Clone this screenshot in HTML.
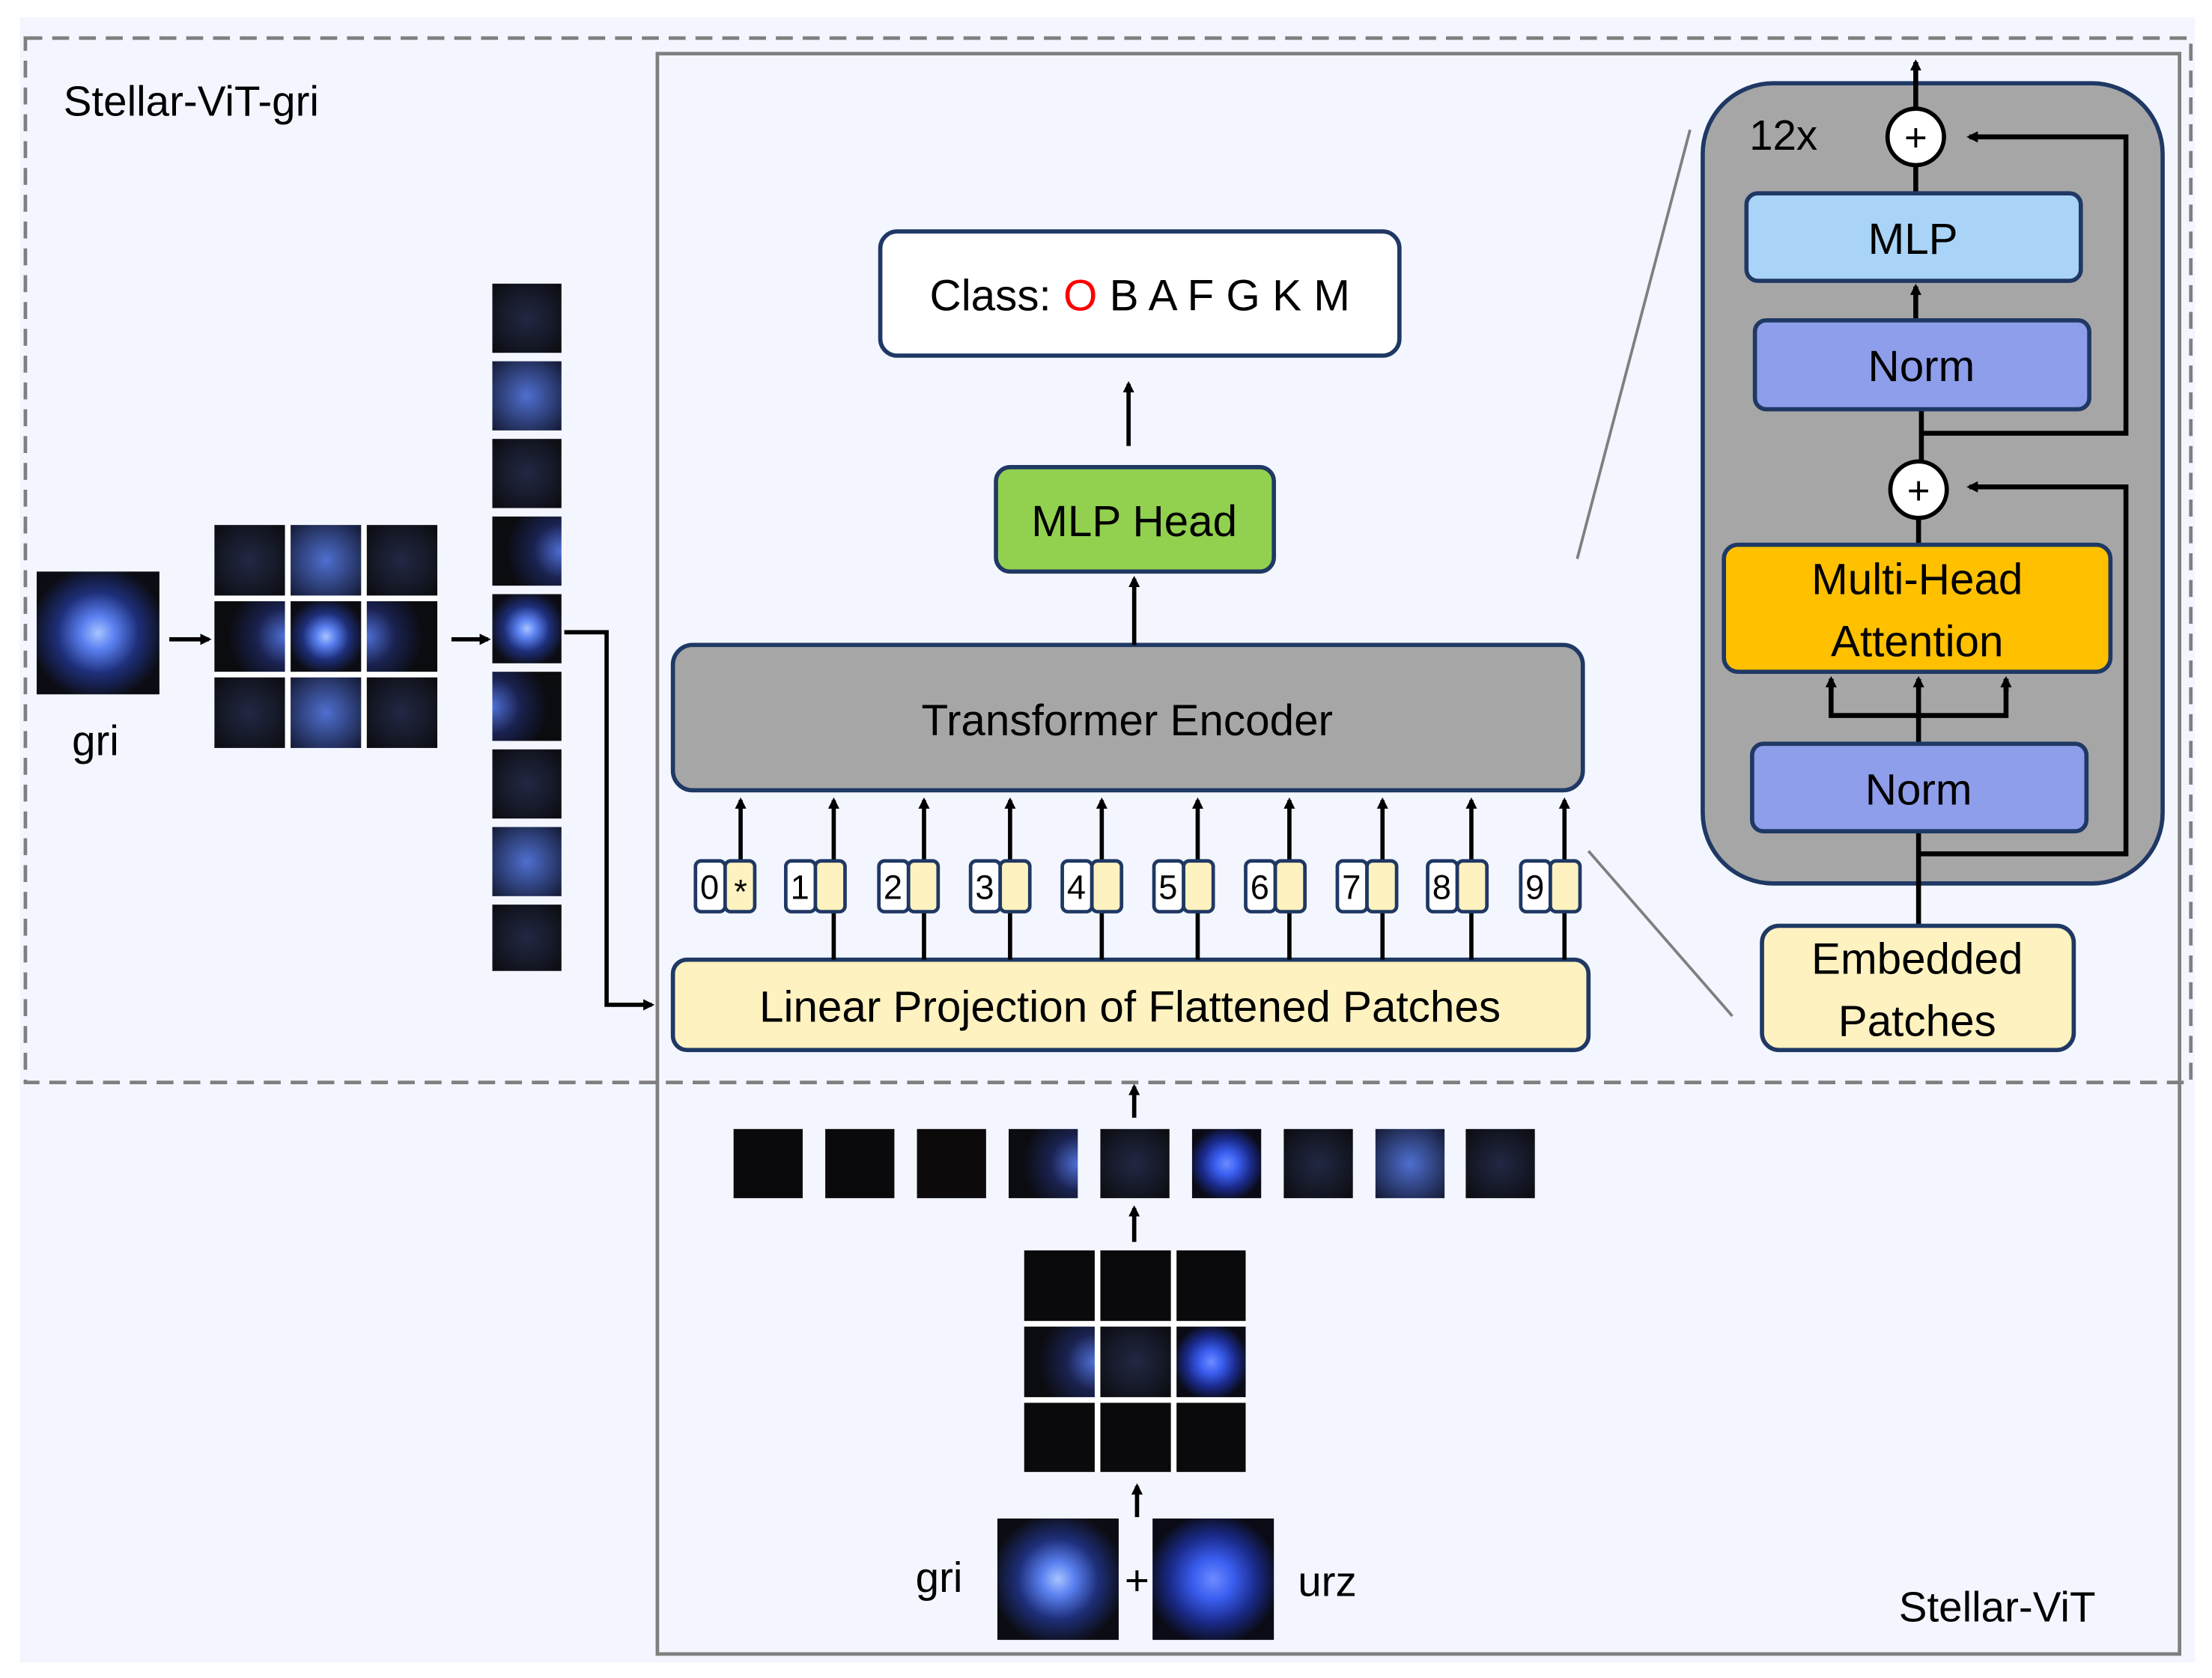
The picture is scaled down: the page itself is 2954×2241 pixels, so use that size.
<!DOCTYPE html>
<html><head><meta charset="utf-8"><style>
html,body{margin:0;padding:0;background:#fff;}
svg{display:block;}
text{font-family:"Liberation Sans","DejaVu Sans",sans-serif;}
</style></head><body>
<svg width="2954" height="2241" viewBox="0 0 1568 1189" preserveAspectRatio="none" xmlns="http://www.w3.org/2000/svg">
<defs>
<radialGradient id="star" cx="50%" cy="50%" r="55%">
<stop offset="0" stop-color="#a8c4ff"/><stop offset="0.25" stop-color="#5a80f0"/><stop offset="0.6" stop-color="#1e2f7a"/><stop offset="1" stop-color="#0c0d14"/></radialGradient>
<radialGradient id="star2" cx="50%" cy="50%" r="55%">
<stop offset="0" stop-color="#6e8cff"/><stop offset="0.3" stop-color="#3a5ef0"/><stop offset="0.65" stop-color="#1a2a8a"/><stop offset="1" stop-color="#0a0b14"/></radialGradient>
<radialGradient id="dim" cx="50%" cy="50%" r="70%">
<stop offset="0" stop-color="#222844"/><stop offset="1" stop-color="#0b0c10"/></radialGradient>
<radialGradient id="mid" cx="50%" cy="50%" r="70%">
<stop offset="0" stop-color="#4f6fd0"/><stop offset="1" stop-color="#141a34"/></radialGradient>
<radialGradient id="edgeL" cx="100%" cy="50%" r="80%">
<stop offset="0" stop-color="#5070d8"/><stop offset="0.5" stop-color="#1a2250"/><stop offset="1" stop-color="#0b0c10"/></radialGradient>
<radialGradient id="edgeR" cx="0%" cy="50%" r="80%">
<stop offset="0" stop-color="#5070d8"/><stop offset="0.5" stop-color="#1a2250"/><stop offset="1" stop-color="#0b0c10"/></radialGradient>
<marker id="ah" markerWidth="8" markerHeight="8" refX="6" refY="4" orient="auto" markerUnits="userSpaceOnUse"><path d="M0,0 L8,4 L0,8 z" fill="#000"/></marker>
</defs>
<rect x="14" y="12" width="1542" height="1166" fill="#f3f6fe"/>
<rect x="18" y="27" width="1535" height="740" fill="none" stroke="#7f7f7f" stroke-width="2.5" stroke-dasharray="12,7"/>
<rect x="466" y="38" width="1079" height="1134" fill="none" stroke="#7f7f7f" stroke-width="2.5"/>
<text x="45" y="82" font-size="30">Stellar-ViT-gri</text>
<text x="1346" y="1149" font-size="30">Stellar-ViT</text>

<!-- left star -->
<rect x="26" y="405" width="87" height="87" fill="url(#star)"/>
<text x="51" y="535" font-size="30">gri</text>
<line x1="120" y1="453" x2="148" y2="453" stroke="#000" stroke-width="3" marker-end="url(#ah)"/>
<rect x="152" y="372" width="158" height="158" fill="#fff"/>
<rect x="152" y="372" width="50" height="50" fill="url(#dim)"/>
<rect x="206" y="372" width="50" height="50" fill="url(#mid)"/>
<rect x="260" y="372" width="50" height="50" fill="url(#dim)"/>
<rect x="152" y="426" width="50" height="50" fill="url(#edgeL)"/>
<rect x="206" y="426" width="50" height="50" fill="url(#star)"/>
<rect x="260" y="426" width="50" height="50" fill="url(#edgeR)"/>
<rect x="152" y="480" width="50" height="50" fill="url(#dim)"/>
<rect x="206" y="480" width="50" height="50" fill="url(#mid)"/>
<rect x="260" y="480" width="50" height="50" fill="url(#dim)"/>
<line x1="320" y1="453" x2="346" y2="453" stroke="#000" stroke-width="3" marker-end="url(#ah)"/>
<g>
<rect x="349" y="201" width="49" height="49" fill="url(#dim)"/>
<rect x="349" y="256" width="49" height="49" fill="url(#mid)"/>
<rect x="349" y="311" width="49" height="49" fill="url(#dim)"/>
<rect x="349" y="366" width="49" height="49" fill="url(#edgeL)"/>
<rect x="349" y="421" width="49" height="49" fill="url(#star)"/>
<rect x="349" y="476" width="49" height="49" fill="url(#edgeR)"/>
<rect x="349" y="531" width="49" height="49" fill="url(#dim)"/>
<rect x="349" y="586" width="49" height="49" fill="url(#mid)"/>
<rect x="349" y="641" width="49" height="47" fill="url(#dim)"/>
</g>
<polyline points="400,448 430,448 430,712 462,712" fill="none" stroke="#000" stroke-width="3" marker-end="url(#ah)"/>

<!-- thin gray lines -->
<line x1="1198" y1="92" x2="1118" y2="396" stroke="#7f7f7f" stroke-width="2"/>
<line x1="1126" y1="603" x2="1228" y2="720" stroke="#7f7f7f" stroke-width="2"/>

<!-- main pipeline -->
<rect x="477" y="680" width="649" height="64" rx="10" fill="#fdf2c0" stroke="#1f3864" stroke-width="3"/>
<text x="801" y="724" font-size="31" text-anchor="middle">Linear Projection of Flattened Patches</text>
<rect x="477" y="457" width="645" height="103" rx="14" fill="#a6a6a6" stroke="#1f3864" stroke-width="3"/>
<text x="799" y="521" font-size="31" text-anchor="middle">Transformer Encoder</text>
<g stroke="#000" stroke-width="3">
<line x1="525" y1="610" x2="525" y2="567" marker-end="url(#ah)"/>
<line x1="591" y1="680" x2="591" y2="567" marker-end="url(#ah)"/>
<line x1="655" y1="680" x2="655" y2="567" marker-end="url(#ah)"/>
<line x1="716" y1="680" x2="716" y2="567" marker-end="url(#ah)"/>
<line x1="781" y1="680" x2="781" y2="567" marker-end="url(#ah)"/>
<line x1="849" y1="680" x2="849" y2="567" marker-end="url(#ah)"/>
<line x1="914" y1="680" x2="914" y2="567" marker-end="url(#ah)"/>
<line x1="980" y1="680" x2="980" y2="567" marker-end="url(#ah)"/>
<line x1="1043" y1="680" x2="1043" y2="567" marker-end="url(#ah)"/>
<line x1="1109" y1="680" x2="1109" y2="567" marker-end="url(#ah)"/>
</g>
<g font-size="24" stroke-width="2.5">
<rect x="493" y="610" width="21" height="36" rx="4" fill="#fff" stroke="#1f3864"/><rect x="514" y="610" width="21" height="36" rx="4" fill="#fdf2c0" stroke="#1f3864"/><text x="503" y="637" text-anchor="middle">0</text><text x="525" y="640" text-anchor="middle">*</text>
<rect x="557" y="610" width="21" height="36" rx="4" fill="#fff" stroke="#1f3864"/><rect x="578" y="610" width="21" height="36" rx="4" fill="#fdf2c0" stroke="#1f3864"/><text x="567" y="637" text-anchor="middle">1</text>
<rect x="623" y="610" width="21" height="36" rx="4" fill="#fff" stroke="#1f3864"/><rect x="644" y="610" width="21" height="36" rx="4" fill="#fdf2c0" stroke="#1f3864"/><text x="633" y="637" text-anchor="middle">2</text>
<rect x="688" y="610" width="21" height="36" rx="4" fill="#fff" stroke="#1f3864"/><rect x="709" y="610" width="21" height="36" rx="4" fill="#fdf2c0" stroke="#1f3864"/><text x="698" y="637" text-anchor="middle">3</text>
<rect x="753" y="610" width="21" height="36" rx="4" fill="#fff" stroke="#1f3864"/><rect x="774" y="610" width="21" height="36" rx="4" fill="#fdf2c0" stroke="#1f3864"/><text x="763" y="637" text-anchor="middle">4</text>
<rect x="818" y="610" width="21" height="36" rx="4" fill="#fff" stroke="#1f3864"/><rect x="839" y="610" width="21" height="36" rx="4" fill="#fdf2c0" stroke="#1f3864"/><text x="828" y="637" text-anchor="middle">5</text>
<rect x="883" y="610" width="21" height="36" rx="4" fill="#fff" stroke="#1f3864"/><rect x="904" y="610" width="21" height="36" rx="4" fill="#fdf2c0" stroke="#1f3864"/><text x="893" y="637" text-anchor="middle">6</text>
<rect x="948" y="610" width="21" height="36" rx="4" fill="#fff" stroke="#1f3864"/><rect x="969" y="610" width="21" height="36" rx="4" fill="#fdf2c0" stroke="#1f3864"/><text x="958" y="637" text-anchor="middle">7</text>
<rect x="1012" y="610" width="21" height="36" rx="4" fill="#fff" stroke="#1f3864"/><rect x="1033" y="610" width="21" height="36" rx="4" fill="#fdf2c0" stroke="#1f3864"/><text x="1022" y="637" text-anchor="middle">8</text>
<rect x="1078" y="610" width="21" height="36" rx="4" fill="#fff" stroke="#1f3864"/><rect x="1099" y="610" width="21" height="36" rx="4" fill="#fdf2c0" stroke="#1f3864"/><text x="1088" y="637" text-anchor="middle">9</text>
</g>
<line x1="804" y1="457" x2="804" y2="410" stroke="#000" stroke-width="3" marker-end="url(#ah)"/>
<rect x="706" y="331" width="197" height="74" rx="10" fill="#92d050" stroke="#1f3864" stroke-width="3"/>
<text x="804" y="380" font-size="31" text-anchor="middle">MLP Head</text>
<line x1="800" y1="316" x2="800" y2="272" stroke="#000" stroke-width="3" marker-end="url(#ah)"/>
<rect x="624" y="164" width="368" height="88" rx="12" fill="#fff" stroke="#1f3864" stroke-width="3"/>
<text x="808" y="220" font-size="31" text-anchor="middle">Class: <tspan fill="#ff0000">O</tspan> B A F G K M</text>

<!-- encoder block -->
<rect x="1207" y="59" width="326" height="567" rx="50" fill="#a6a6a6" stroke="#1f3864" stroke-width="3"/>
<text x="1240" y="106" font-size="30">12x</text>
<g stroke="#000" stroke-width="3.5" fill="none">
<line x1="1358" y1="77" x2="1358" y2="44" marker-end="url(#ah)"/>
<polyline points="1362,307 1507,307 1507,97 1396,97" marker-end="url(#ah)"/>
<polyline points="1360,605 1507,605 1507,345 1396,345" marker-end="url(#ah)"/>
<line x1="1358" y1="137" x2="1358" y2="117"/>
<line x1="1358" y1="227" x2="1358" y2="203" marker-end="url(#ah)"/>
<line x1="1362" y1="290" x2="1362" y2="327"/>
<line x1="1360" y1="386" x2="1360" y2="367"/>
<line x1="1360" y1="656" x2="1360" y2="589"/>
<line x1="1360" y1="527" x2="1360" y2="481" marker-end="url(#ah)"/>
<polyline points="1298,481 1298,507 1422,507 1422,481" />
<line x1="1298" y1="490" x2="1298" y2="481" marker-end="url(#ah)"/>
<line x1="1422" y1="490" x2="1422" y2="481" marker-end="url(#ah)"/>
</g>
<circle cx="1358" cy="97" r="20" fill="#fff" stroke="#000" stroke-width="3"/>
<text x="1358" y="107" font-size="28" text-anchor="middle">+</text>
<circle cx="1360" cy="347" r="20" fill="#fff" stroke="#000" stroke-width="3"/>
<text x="1360" y="357" font-size="28" text-anchor="middle">+</text>
<rect x="1238" y="137" width="237" height="62" rx="8" fill="#a9d4f7" stroke="#1f3864" stroke-width="3"/>
<text x="1356" y="180" font-size="31" text-anchor="middle">MLP</text>
<rect x="1244" y="227" width="237" height="63" rx="8" fill="#8e9eea" stroke="#1f3864" stroke-width="3"/>
<text x="1362" y="270" font-size="31" text-anchor="middle">Norm</text>
<rect x="1222" y="386" width="274" height="90" rx="10" fill="#ffc000" stroke="#1f3864" stroke-width="3"/>
<text x="1359" y="421" font-size="31" text-anchor="middle">Multi-Head</text>
<text x="1359" y="465" font-size="31" text-anchor="middle">Attention</text>
<rect x="1242" y="527" width="237" height="62" rx="8" fill="#8e9eea" stroke="#1f3864" stroke-width="3"/>
<text x="1360" y="570" font-size="31" text-anchor="middle">Norm</text>
<rect x="1249" y="656" width="221" height="88" rx="12" fill="#fdf2c0" stroke="#1f3864" stroke-width="3"/>
<text x="1359" y="690" font-size="31" text-anchor="middle">Embedded</text>
<text x="1359" y="734" font-size="31" text-anchor="middle">Patches</text>

<!-- bottom -->
<line x1="804" y1="792" x2="804" y2="770" stroke="#000" stroke-width="3" marker-end="url(#ah)"/>
<rect x="520" y="800" width="49" height="49" fill="#0a0a0c"/>
<rect x="585" y="800" width="49" height="49" fill="#0a0a0c"/>
<rect x="650" y="800" width="49" height="49" fill="#0d0a0c"/>
<rect x="715" y="800" width="49" height="49" fill="url(#edgeL)"/>
<rect x="780" y="800" width="49" height="49" fill="url(#dim)"/>
<rect x="845" y="800" width="49" height="49" fill="url(#star2)"/>
<rect x="910" y="800" width="49" height="49" fill="url(#dim)"/>
<rect x="975" y="800" width="49" height="49" fill="url(#mid)"/>
<rect x="1039" y="800" width="49" height="49" fill="url(#dim)"/>
<line x1="804" y1="880" x2="804" y2="856" stroke="#000" stroke-width="3" marker-end="url(#ah)"/>
<rect x="726" y="886" width="157" height="157" fill="#fff"/>
<rect x="726" y="886" width="50" height="50" fill="#0a0a0c"/>
<rect x="780" y="886" width="50" height="50" fill="#0a0a0c"/>
<rect x="834" y="886" width="49" height="50" fill="#0a0a0c"/>
<rect x="726" y="940" width="50" height="50" fill="url(#edgeL)"/>
<rect x="780" y="940" width="50" height="50" fill="url(#dim)"/>
<rect x="834" y="940" width="49" height="50" fill="url(#star2)"/>
<rect x="726" y="994" width="50" height="49" fill="#0a0a0c"/>
<rect x="780" y="994" width="50" height="49" fill="#0a0a0c"/>
<rect x="834" y="994" width="49" height="49" fill="#0a0a0c"/>
<line x1="806" y1="1075" x2="806" y2="1053" stroke="#000" stroke-width="3" marker-end="url(#ah)"/>
<rect x="707" y="1076" width="86" height="86" fill="url(#star)"/>
<rect x="817" y="1076" width="86" height="86" fill="url(#star2)"/>
<text x="806" y="1130" font-size="30" text-anchor="middle">+</text>
<text x="649" y="1128" font-size="30">gri</text>
<text x="920" y="1131" font-size="30">urz</text>
</svg>
</body></html>
